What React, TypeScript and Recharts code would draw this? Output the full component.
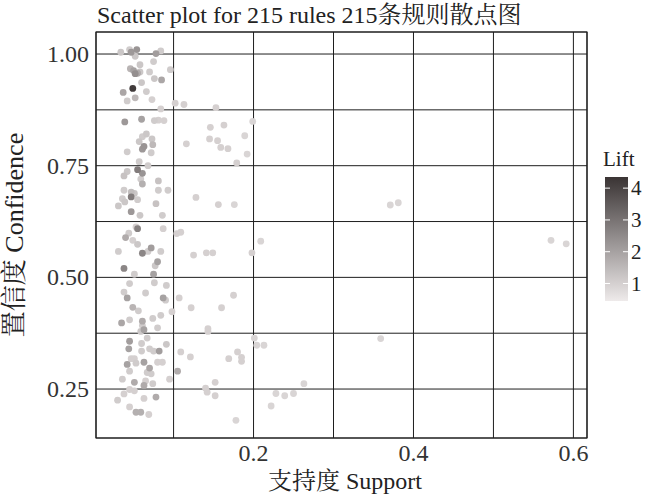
import { ScatterChart, Scatter, XAxis, YAxis, CartesianGrid, ReferenceArea } from 'recharts';

const support = [
  0.034, 0.045, 0.047, 0.054, 0.052, 0.078, 0.084, 0.075, 0.058, 0.046,
  0.050, 0.052, 0.055, 0.058, 0.070, 0.096, 0.076, 0.085, 0.060, 0.049,
  0.037, 0.066, 0.052, 0.042, 0.073, 0.102, 0.113, 0.084, 0.039, 0.060,
  0.076, 0.081, 0.088, 0.066, 0.061, 0.073, 0.057, 0.074, 0.063, 0.061,
  0.042, 0.072, 0.057, 0.068, 0.055, 0.061, 0.042, 0.038, 0.059, 0.061,
  0.081, 0.038, 0.047, 0.051, 0.047, 0.055, 0.036, 0.039, 0.031, 0.081,
  0.093, 0.078, 0.047, 0.058, 0.086, 0.053, 0.055, 0.044, 0.040, 0.049,
  0.055, 0.087, 0.104, 0.109, 0.031, 0.061, 0.072, 0.068, 0.084, 0.080,
  0.077, 0.038, 0.051, 0.075, 0.045, 0.076, 0.091, 0.038, 0.042, 0.065,
  0.087, 0.090, 0.107, 0.049, 0.056, 0.035, 0.045, 0.061, 0.074, 0.084,
  0.098, 0.061, 0.063, 0.059, 0.080, 0.067, 0.045, 0.060, 0.091, 0.044,
  0.060, 0.070, 0.075, 0.082, 0.109, 0.051, 0.047, 0.063, 0.080, 0.086,
  0.042, 0.053, 0.070, 0.045, 0.067, 0.072, 0.105, 0.036, 0.051, 0.065,
  0.074, 0.095, 0.063, 0.045, 0.051, 0.078, 0.038, 0.030, 0.063, 0.045,
  0.053, 0.059, 0.069, 0.153, 0.199, 0.146, 0.163, 0.189, 0.116, 0.145,
  0.155, 0.159, 0.168, 0.192, 0.179, 0.128, 0.156, 0.176, 0.125, 0.141,
  0.149, 0.209, 0.198, 0.122, 0.160, 0.175, 0.143, 0.143, 0.201, 0.204,
  0.213, 0.121, 0.169, 0.180, 0.185, 0.185, 0.140, 0.142, 0.152, 0.152,
  0.263, 0.228, 0.239, 0.250, 0.222, 0.178, 0.371, 0.381, 0.572, 0.591,
  0.359,
];

const confidence = [
  1.004, 1.010, 1.004, 1.010, 0.995, 1.001, 1.007, 0.983, 0.976, 0.967,
  0.963, 0.956, 0.957, 0.960, 0.960, 0.965, 0.945, 0.942, 0.936, 0.923,
  0.914, 0.916, 0.902, 0.895, 0.898, 0.890, 0.887, 0.877, 0.848, 0.854,
  0.851, 0.852, 0.851, 0.821, 0.815, 0.810, 0.804, 0.797, 0.793, 0.787,
  0.781, 0.779, 0.759, 0.750, 0.741, 0.733, 0.737, 0.727, 0.720, 0.709,
  0.716, 0.695, 0.691, 0.688, 0.680, 0.674, 0.676, 0.669, 0.660, 0.695,
  0.695, 0.665, 0.647, 0.639, 0.639, 0.613, 0.609, 0.599, 0.589, 0.583,
  0.574, 0.609, 0.598, 0.601, 0.558, 0.554, 0.566, 0.558, 0.558, 0.535,
  0.526, 0.520, 0.507, 0.507, 0.486, 0.488, 0.482, 0.467, 0.454, 0.465,
  0.454, 0.449, 0.454, 0.433, 0.425, 0.398, 0.405, 0.402, 0.408, 0.415,
  0.423, 0.392, 0.383, 0.379, 0.387, 0.364, 0.357, 0.352, 0.350, 0.340,
  0.335, 0.340, 0.335, 0.335, 0.333, 0.318, 0.318, 0.310, 0.310, 0.310,
  0.305, 0.308, 0.297, 0.290, 0.287, 0.284, 0.290, 0.272, 0.265, 0.268,
  0.262, 0.272, 0.258, 0.249, 0.246, 0.232, 0.239, 0.225, 0.229, 0.210,
  0.198, 0.198, 0.193, 0.880, 0.849, 0.836, 0.841, 0.817, 0.799, 0.810,
  0.806, 0.791, 0.788, 0.776, 0.756, 0.679, 0.663, 0.663, 0.550, 0.555,
  0.555, 0.581, 0.555, 0.432, 0.432, 0.460, 0.385, 0.379, 0.364, 0.348,
  0.348, 0.322, 0.318, 0.333, 0.321, 0.312, 0.252, 0.243, 0.265, 0.235,
  0.262, 0.240, 0.235, 0.240, 0.212, 0.180, 0.662, 0.667, 0.583, 0.575,
  0.363,
];

const lift = [
  1.2, 1.1, 2.2, 2.3, 1.2, 2.1, 1.1, 1.1, 1.2, 1.6,
  2.0, 2.4, 1.8, 1.2, 1.1, 1.1, 1.2, 1.9, 1.2, 4.2,
  1.9, 1.1, 1.5, 1.1, 1.0, 1.0, 1.0, 1.0, 2.2, 2.0,
  1.1, 1.0, 1.0, 1.2, 1.1, 1.2, 1.2, 1.5, 2.3, 2.2,
  1.1, 1.1, 1.1, 1.1, 2.8, 2.3, 1.2, 1.3, 1.1, 1.7,
  1.3, 1.1, 1.4, 1.2, 2.8, 1.1, 1.1, 1.2, 1.2, 1.1,
  1.1, 1.3, 2.2, 1.2, 1.1, 1.0, 2.7, 1.1, 1.8, 1.0,
  1.2, 1.0, 1.0, 1.0, 1.1, 2.6, 2.1, 1.1, 1.1, 2.0,
  1.2, 2.6, 1.1, 2.0, 1.1, 1.1, 1.1, 1.1, 2.0, 1.1,
  2.0, 1.1, 1.0, 1.6, 1.1, 1.9, 1.1, 1.8, 1.1, 1.1,
  1.0, 1.1, 2.0, 1.2, 1.1, 1.1, 2.1, 1.1, 1.2, 2.0,
  1.1, 1.1, 1.1, 2.1, 1.0, 1.0, 1.0, 2.0, 1.0, 1.0,
  2.0, 1.1, 1.9, 1.1, 1.1, 1.1, 1.8, 1.1, 1.8, 1.0,
  1.1, 1.0, 1.8, 1.0, 1.0, 1.8, 1.0, 1.1, 1.0, 1.0,
  1.7, 1.7, 1.0, 1.0, 0.9, 1.0, 1.0, 0.9, 1.0, 1.0,
  1.0, 1.0, 1.0, 0.9, 1.0, 1.0, 1.0, 0.9, 1.0, 1.0,
  1.0, 0.9, 1.0, 1.0, 1.0, 1.0, 1.0, 1.0, 0.9, 0.9,
  0.9, 1.0, 1.0, 1.0, 1.0, 1.0, 1.0, 1.0, 1.0, 1.0,
  0.9, 0.9, 0.9, 0.9, 0.9, 0.9, 0.9, 0.9, 0.9, 0.9,
  0.9,
];

const xTicks = [0.1, 0.2, 0.3, 0.4, 0.5, 0.6];
const xLabels = [0.2, 0.4, 0.6];
const yTicks = [0.25, 0.375, 0.5, 0.625, 0.75, 0.875, 1.0];
const yLabels = [0.25, 0.5, 0.75, 1.0];
const liftTicks = [1, 2, 3, 4];

const X_DOMAIN = [0.003, 0.617];
const Y_DOMAIN = [0.1404, 1.0493];
const LIFT_MIN = 0.45;
const LIFT_MAX = 4.35;

const FONT = '"Liberation Serif", "Noto Serif CJK SC", "Noto Sans CJK SC", serif';

const LIGHT = [238, 234, 234];
const DARK = [58, 52, 52];

function liftColor(v: number) {
  const t = Math.max(0, Math.min(1, (v - LIFT_MIN) / (LIFT_MAX - LIFT_MIN)));
  const c = LIGHT.map((l, i) => Math.round(l + (DARK[i] - l) * t));
  return `rgb(${c[0]},${c[1]},${c[2]})`;
}

const rules = support
  .map((s, i) => ({ support: s, confidence: confidence[i], lift: lift[i] }))
  .sort((a, b) => a.lift - b.lift);

const XTick = (props: any) => {
  const { x, payload } = props;
  if (!xLabels.includes(payload.value)) return null;
  return (
    <text x={x} y={461} textAnchor="middle" fontFamily={FONT} fontSize={24} fill="#333">
      {payload.value.toFixed(1)}
    </text>
  );
};

const YTick = (props: any) => {
  const { y, payload } = props;
  if (!yLabels.includes(payload.value)) return null;
  return (
    <text x={89} y={y} dy={8} textAnchor="end" fontFamily={FONT} fontSize={24} fill="#333">
      {payload.value.toFixed(2)}
    </text>
  );
};

const Dot = (props: any) => (
  <circle cx={props.cx} cy={props.cy} r={3.4} fill={liftColor(props.payload.lift)} />
);

// colourbar position
const BAR_X = 605;
const BAR_W = 23;
const BAR_TOP = 177;
const BAR_BOTTOM = 301;
const liftY = (v: number) =>
  BAR_BOTTOM - ((v - LIFT_MIN) / (LIFT_MAX - LIFT_MIN)) * (BAR_BOTTOM - BAR_TOP);

export default function App() {
  return (
    <div style={{ position: 'absolute', left: 0, top: 0, width: 650, height: 498, background: '#fff' }}>
      <ScatterChart
        width={650}
        height={498}
        margin={{ top: 32, right: 63, bottom: 0, left: 0 }}
      >
        <CartesianGrid stroke="#1e1e1e" strokeWidth={1} />
        <XAxis
          type="number"
          dataKey="support"
          domain={X_DOMAIN}
          ticks={xTicks}
          tick={XTick}
          tickLine={false}
          axisLine={false}
          height={60}
          allowDataOverflow
        />
        <YAxis
          type="number"
          dataKey="confidence"
          domain={Y_DOMAIN}
          ticks={yTicks}
          tick={YTick}
          tickLine={false}
          axisLine={false}
          width={96}
          allowDataOverflow
        />
        <Scatter data={rules} shape={Dot} isAnimationActive={false} />
        <ReferenceArea
          x1={X_DOMAIN[0]}
          x2={X_DOMAIN[1]}
          y1={Y_DOMAIN[0]}
          y2={Y_DOMAIN[1]}
          fill="none"
          stroke="#1e1e1e"
          strokeWidth={1.2}
          ifOverflow="extendDomain"
        />
      </ScatterChart>
      <svg
        width={650}
        height={498}
        style={{ position: 'absolute', left: 0, top: 0, pointerEvents: 'none' }}
      >
        <defs>
          <linearGradient id="liftGrad" x1="0" y1="1" x2="0" y2="0">
            <stop offset="0%" stopColor={liftColor(LIFT_MIN)} />
            <stop offset="100%" stopColor={liftColor(LIFT_MAX)} />
          </linearGradient>
        </defs>
        <text x={97} y={23} fontFamily={FONT} fontSize={24} fill="#222">
          Scatter plot for 215 rules 215条规则散点图
        </text>
        <text x={345} y={489} textAnchor="middle" fontFamily={FONT} fontSize={24} fill="#222">
          支持度 Support
        </text>
        <text
          transform="translate(23,235) rotate(-90)"
          textAnchor="middle"
          fontFamily={FONT}
          fontSize={26}
          fill="#222"
        >
          置信度 Confidence
        </text>
        <text x={603} y={166} fontFamily={FONT} fontSize={21} fill="#222">
          Lift
        </text>
        <rect x={BAR_X} y={BAR_TOP} width={BAR_W} height={BAR_BOTTOM - BAR_TOP} fill="url(#liftGrad)" />
        {liftTicks.map((t) => (
          <g key={t}>
            <line x1={BAR_X} x2={BAR_X + 5} y1={liftY(t)} y2={liftY(t)} stroke="#fff" strokeWidth={1} />
            <line x1={BAR_X + BAR_W - 5} x2={BAR_X + BAR_W} y1={liftY(t)} y2={liftY(t)} stroke="#fff" strokeWidth={1} />
            <text x={BAR_X + BAR_W + 3} y={liftY(t) + 7} fontFamily={FONT} fontSize={21} fill="#222">
              {t}
            </text>
          </g>
        ))}
      </svg>
    </div>
  );
}
